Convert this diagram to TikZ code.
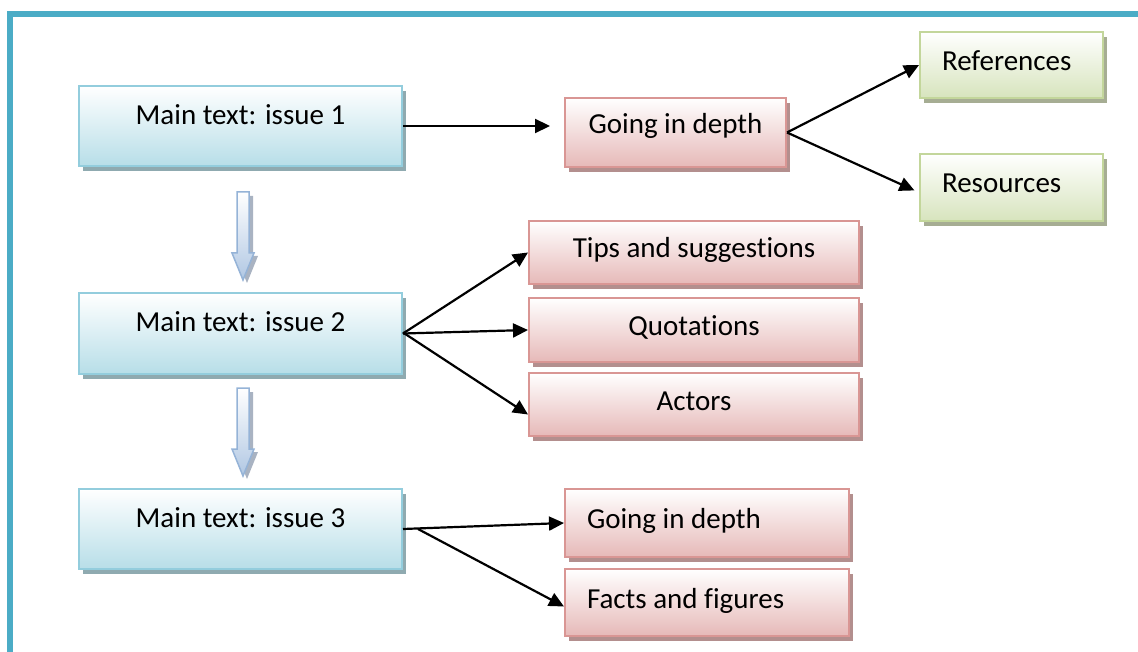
\documentclass[tikz,border=0pt]{standalone}
\usepackage{fontspec}
\setmainfont{Carlito}[Ligatures=NoCommon]
\usepackage{tikz}
\usetikzlibrary{shadows,arrows.meta}

\definecolor{framecol}{HTML}{4BACC6}
\definecolor{blueline}{HTML}{93CDDD}
\definecolor{bluefill}{HTML}{B7DEE8}
\definecolor{blueshade}{HTML}{8FAAB0}
\definecolor{pinkline}{HTML}{D99694}
\definecolor{pinkfill}{HTML}{E6B9B8}
\definecolor{pinkshade}{HTML}{B38F8E}
\definecolor{greenline}{HTML}{C3D69B}
\definecolor{greenfill}{HTML}{D7E4BD}
\definecolor{greenshade}{HTML}{A6AD93}
\definecolor{arrline}{HTML}{95B3D7}
\definecolor{arrfill}{HTML}{B0C7E3}
\definecolor{arrshade}{HTML}{A9B3C2}

\tikzset{
    box/.style={line width=2pt, inner sep=0pt},
    mainbox/.style={box, draw=blueline, top color=white, bottom color=bluefill,
        minimum width=323pt, minimum height=80pt, text height=22pt, text depth=25pt,
        drop shadow={shadow xshift=4pt, shadow yshift=-5pt, opacity=1, fill=blueshade}},
    subbox/.style={box, draw=pinkline, top color=white, bottom color=pinkfill,
        minimum height=66pt, text height=27pt, text depth=16pt,
        drop shadow={shadow xshift=4pt, shadow yshift=-5pt, opacity=1, fill=pinkshade}},
    leafbox/.style={box, draw=greenline, top color=white, bottom color=greenfill,
        minimum height=66pt, text height=27pt, text depth=16pt,
        drop shadow={shadow xshift=4pt, shadow yshift=-5pt, opacity=1, fill=greenshade}},
    lefttext/.style={align=flush left, inner xsep=22pt, text width=#1},
    conn/.style={-{Triangle[length=15pt,width=14pt]}, line width=2.2pt},
    blockarrow/.style={draw=arrline, line width=1.5pt, top color=white, bottom color=arrfill}
}

\begin{document}
\begin{tikzpicture}[x=1pt, y=-1pt, font=\fontsize{29}{34}\selectfont]
            \useasboundingbox (0,0) rectangle (1138,652);
            \draw[framecol, line width=6pt] (10,652) -- (10,14) -- (1138,14);

            \node[mainbox] (m1) at (240.5,126) {Main text: issue 1};
            \node[mainbox] (m2) at (240.5,333.5) {Main text: issue 2};
            \node[mainbox] (m3) at (240.5,529) {Main text: issue 3};

            \node[subbox, minimum width=221pt, minimum height=69pt, text height=22pt,
                text depth=20pt] (g1) at (675.5,132.5) {Going in depth};
            \node[leafbox, minimum width=183pt, lefttext=139pt] (refs) at (1011.5,65) {References};
            \node[leafbox, minimum width=183pt, minimum height=67pt, lefttext=139pt] (res)
                at (1011.5,187.5) {Resources};

            \node[subbox, minimum width=330pt, minimum height=63pt] (tips) at (694,252.5)
                {Tips and suggestions};
            \node[subbox, minimum width=330pt, minimum height=64pt] (quot) at (694,330)
                {Quotations};
            \node[subbox, minimum width=330pt, minimum height=63pt] (act) at (694,404.5)
                {Actors};

            \node[subbox, minimum width=284pt, minimum height=68pt, lefttext=240pt] (g2)
                at (707,523) {Going in depth};
            \node[subbox, minimum width=284pt, minimum height=67pt, lefttext=240pt] (facts)
                at (707,602.5) {Facts and figures};

            \foreach \t in {192,388} {
                    \fill[arrshade] (241,\t+4) -- (253,\t+4) -- (253,\t+64) -- (258,\t+64)
                    -- (247,\t+91) -- (236,\t+64) -- (241,\t+64) -- cycle;
                    \draw[blockarrow] (237,\t) -- (249,\t) -- (249,\t+61) -- (254,\t+61)
                    -- (243,\t+88) -- (232,\t+61) -- (237,\t+61) -- cycle;
                }

            \draw[conn, shorten >=14pt] (m1.east) -- (m1.east -| g1.west);
            \draw[conn] (g1.east) -- (refs.west);
            \draw[conn, shorten >=5pt] (g1.east) -- ([yshift=-5pt]res.west);

            \draw[conn] (m2.east) -- (tips.west);
            \draw[conn] (m2.east) -- (quot.west);
            \draw[conn] ([yshift=1pt]m2.east) -- ([yshift=-10pt]act.west);

            \coordinate (fork) at ([xshift=15pt]m3.east);
            \draw[conn] (m3.east) -- (g2.west);
            \draw[conn] (fork) -- ([yshift=-4pt]facts.west);
\end{tikzpicture}
\end{document}
